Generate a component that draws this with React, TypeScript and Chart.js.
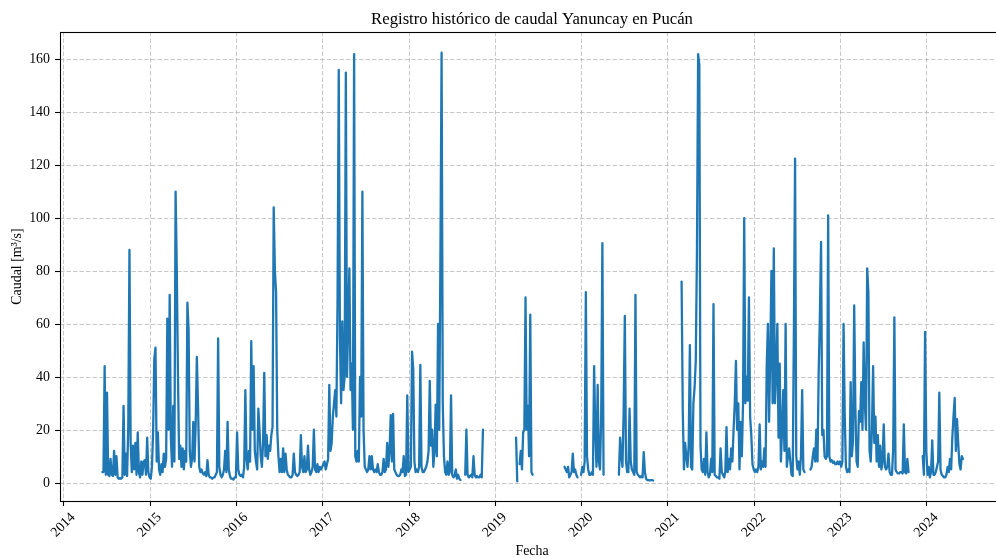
import { useEffect, useRef } from "react";
import { Chart, registerables } from "chart.js";

Chart.register(...registerables);

// Daily discharge sampled every 5 days, one array per calendar year (null = no record)
const STEP_DAYS = 5;
const _ = null;

const q2014 = [
  _, _, _, _, _, _, _, _, _, _, _, _, _, _, _, _, _, _, _, _, _, _, _, _, _, _, _, _, _, _, _, _, _,
  4, 4, 44, 3, 34, 3, 2.5, 9, 3, 2.5, 12, 3, 10, 2, 1.5, 1.8, 1.5, 2, 29, 3, 11, 2.5, 21, 88, 15,
  4, 14, 5, 15, 3, 19, 4, 2, 8, 3, 8, 8.5, 3, 17, 4,
];
const q2015 = [
  2, 1.5, 6, 20, 47, 51, 8, 19, 5, 3, 7, 4, 11, 6, 9, 62, 20, 71, 17, 6, 29, 8, 110, 81, 41, 9, 14,
  6, 13, 5, 12, 8, 68, 58, 12, 6, 9, 23, 8, 22, 47.5, 29, 6, 4, 5, 3.5, 3, 4, 2.5, 8.5, 3, 2, 2,
  1.5, 2, 2, 3, 4, 54.5, 6, 3, 2, 3, 5, 12, 4, 23, 5, 2.5, 1.5, 1.5, 1.2, 2,
];
const q2016 = [
  2, 19, 5, 3, 2.5, 3, 2, 6, 35, 9, 5, 12, 8, 53.5, 20, 44, 12, 8, 5, 28, 20, 10, 6, 15, 41.5, 10,
  18, 9, 14, 12, 18, 21, 104, 80, 72, 20, 10, 4, 9, 4, 13, 4, 11, 5, 3, 2.5, 2, 2, 3, 11, 4, 3,
  2.5, 3, 4, 18, 6, 4, 10, 4, 5, 14, 5, 3, 4, 6, 20, 5, 4, 7, 4, 6, 5,
];
const q2017 = [
  6, 7, 8, 5, 7, 9, 37, 12, 15, 25, 30, 35, 25, 70, 156, 55, 30, 61, 35, 40, 155, 40, 60, 81, 35,
  45, 20, 162, 10, 8, 12, 8, 40, 25, 110, 20, 6, 5, 4, 5, 10, 5, 10, 5, 4, 5, 4, 7, 4, 3, 3, 4, 9,
  4, 5, 15, 6, 12, 25.5, 8, 26, 5, 4, 3, 2.5, 2.5, 3, 5, 4, 10, 2.5, 3, 33,
];
const q2018 = [
  4, 5, 6, 49.5, 43, 8, 4, 5, 4, 6, 44.5, 6, 4, 4, 5, 6, 8, 12, 38.5, 14, 20, 6, 12, 29.5, 10, 60,
  20, 84, 162.5, 30, 10, 4, 3, 8, 3, 4, 33, 3, 2, 2.5, 5, 1.5, 3, 1.5, 1, _, _, _, 3, 20, 3, 2,
  2.5, 3, 2, 10, 3, 2, 2.5, 2, 2, 3, 2, 20, _, _, _, _, _, _, _, _, _,
];
const q2019 = [
  _, _, _, _, _, _, _, _, _, _, _, _, _, _, _, _, _, _, 17, 0.5, _, 7, 12, 5, 19, 20, 70, 20, 29,
  10, 63.5, 4, 3, _, _, _, _, _, _, _, _, _, _, _, _, _, _, _, _, _, _, _, _, _, _, _, _, _, _, 6,
  5, 4, 6, 2, 3, 4, 11, 4, 5, 3, 2, _, _,
];
const q2020 = [
  3, 6, 4, 8, 72, 10, 5, 3, 3, 4, 3, 44, 20, 6, 37, 8, 5, 25, 90.5, 3, _, _, _, _, _, _, _, _, _,
  _, _, _, 3, 17, 10, 6, 27, 63, 8, 4, 4, 28, 8, 5, 4, 3, 71, 4, 3, 2.5, 2, 2.5, 2, 11.5, 4, 1.5,
  1, 1, 0.8, 1, 1, 0.8, _, _, _, _, _, _, _, _, _, _, _,
];
const q2021 = [
  _, _, _, _, _, _, _, _, _, _, _, _, 76, 27, 5, 15, 10, 6, 14, 52, 6, 5, 30, 36, 46, 87, 162, 158,
  14, 5, 4, 9, 3, 19, 4, 2, 3, 9, 4, 67.5, 3, 2.5, 2, 2, 1.5, 13, 4, 3, 2, 4, 21, 4, 9, 5, 13, 8,
  20, 30, 46, 20, 30, 5, 23, 10, 30, 100, 30, 40, 31, 70, 25, 18, 7,
];
const q2022 = [
  5, 4, 5, 4, 6, 22, 5, 8, 6, 13, 6, 44, 60, 23, 49, 80, 30, 88.5, 30, 42, 60, 17, 45, 8, 20, 35,
  12, 60, 6, 10, 13, 8, 3, 2.5, 57.5, 122.5, 10, 5, 8, 3, 10, 35, 5, 4, _, _, _, _, 5, 6, 10, 13,
  8, 20, 8, 42, 63, 91, 18, 20, 10, 9, 10, 101, 10, 8, 8.5, 7.5, 8, 7, 7, 8, 7,
];
const q2023 = [
  8, 6, 8, 60, 25, 6, 4, 5, 4, 38, 10, 16, 67, 28, 8, 6, 27, 23, 38, 20, 53, 30, 20, 81, 72, 12, 8,
  20, 44, 15, 25, 8, 18, 6, 14, 5, 8, 22, 6, 5, 6, 11, 4, 3, 3, 13, 62.5, 5, 4, 3.5, 3.5, 4, 4,
  3.5, 22, 4, 3.5, 9, 4, _, _, _, _, _, _, _, _, _, _, _, 10, 3, 57,
];
const q2024 = [
  12, 3, 6, 2, 4, 16, 3, 3, 4, 6, 8, 34, 5, 3, 2.5, 2, 2, 3, 6, 4, 9, 5, 17, 25, 32, 12, 24, 15,
  7, 5, 10, 9,
];

const yearTicks = [2014, 2015, 2016, 2017, 2018, 2019, 2020, 2021, 2022, 2023, 2024];
const yTicks = [0, 20, 40, 60, 80, 100, 120, 140, 160];

const TITLE = "Registro histórico de caudal Yanuncay en Pucán";
const X_LABEL = "Fecha";
const Y_LABEL = "Caudal [m³/s]";

const FONT = "'Liberation Serif', 'Times New Roman', serif";
const LINE_COLOR = "#1f77b4";
const GRID_COLOR = "rgba(176,176,176,0.7)";

const yearly: [number, (number | null)[]][] = [
  [2014, q2014], [2015, q2015], [2016, q2016], [2017, q2017], [2018, q2018], [2019, q2019],
  [2020, q2020], [2021, q2021], [2022, q2022], [2023, q2023], [2024, q2024],
];

const points = yearly.flatMap(([yr, vals]) =>
  vals.map((v, i) => ({ x: yr + (i * STEP_DAYS) / 365.25, y: v }))
);

const axesPlugin = {
  id: "axesDecor",
  beforeDraw(chart: any) {
    const { ctx, width, height } = chart;
    ctx.save();
    ctx.fillStyle = "#ffffff";
    ctx.fillRect(0, 0, width, height);
    ctx.restore();
  },
  beforeDatasetsDraw(chart: any) {
    const { ctx, chartArea: a, scales } = chart;
    const xs = scales.x;
    const ys = scales.y;
    ctx.save();
    ctx.strokeStyle = GRID_COLOR;
    ctx.lineWidth = 1;
    ctx.setLineDash([4.5, 2]);
    for (const v of yearTicks) {
      const px = Math.round(xs.getPixelForValue(v)) + 0.5;
      ctx.beginPath();
      ctx.moveTo(px, a.top);
      ctx.lineTo(px, a.bottom);
      ctx.stroke();
    }
    for (const v of yTicks) {
      const py = Math.round(ys.getPixelForValue(v)) + 0.5;
      ctx.beginPath();
      ctx.moveTo(a.left, py);
      ctx.lineTo(a.right, py);
      ctx.stroke();
    }
    ctx.restore();
  },
  afterDatasetsDraw(chart: any) {
    const { ctx, chartArea: a, scales } = chart;
    const xs = scales.x;
    const ys = scales.y;
    ctx.save();
    // frame
    ctx.strokeStyle = "#000";
    ctx.lineWidth = 1.1;
    ctx.setLineDash([]);
    ctx.strokeRect(Math.round(a.left) + 0.5, Math.round(a.top) + 0.5,
      Math.round(a.right - a.left), Math.round(a.bottom - a.top));

    // tick marks
    for (const v of yTicks) {
      const py = Math.round(ys.getPixelForValue(v)) + 0.5;
      ctx.beginPath();
      ctx.moveTo(a.left - 5, py);
      ctx.lineTo(a.left, py);
      ctx.stroke();
    }
    for (const v of yearTicks) {
      const px = Math.round(xs.getPixelForValue(v)) + 0.5;
      ctx.beginPath();
      ctx.moveTo(px, a.bottom);
      ctx.lineTo(px, a.bottom + 5);
      ctx.stroke();
    }

    // tick labels
    ctx.fillStyle = "#000";
    ctx.font = `13.9px ${FONT}`;
    ctx.textAlign = "right";
    ctx.textBaseline = "middle";
    for (const v of yTicks) {
      ctx.fillText(String(v), a.left - 10, ys.getPixelForValue(v) + 0.5);
    }
    ctx.textAlign = "center";
    for (const v of yearTicks) {
      const px = xs.getPixelForValue(v);
      ctx.save();
      ctx.translate(px, a.bottom + 24);
      ctx.rotate(-Math.PI / 4);
      ctx.fillText(String(v), 0, 0);
      ctx.restore();
    }

    // axis titles
    const cx = (a.left + a.right) / 2;
    ctx.fillText(X_LABEL, cx, 551);
    ctx.save();
    ctx.translate(17, (a.top + a.bottom) / 2);
    ctx.rotate(-Math.PI / 2);
    ctx.fillText(Y_LABEL, 0, 0);
    ctx.restore();

    // chart title
    ctx.font = `16.7px ${FONT}`;
    ctx.textBaseline = "alphabetic";
    ctx.fillText(TITLE, cx, a.top - 8);
    ctx.restore();
  },
};

export default function App() {
  const canvasRef = useRef<HTMLCanvasElement | null>(null);

  useEffect(() => {
    const canvas = canvasRef.current;
    if (!canvas) return;
    const chart = new Chart(canvas, {
      type: "line",
      data: {
        datasets: [
          {
            label: "Caudal",
            data: points as any,
            borderColor: LINE_COLOR,
            borderWidth: 2.3,
            borderJoinStyle: "round",
            borderCapStyle: "round",
            pointRadius: 0,
            tension: 0,
            spanGaps: false,
          },
        ],
      },
      options: {
        responsive: false,
        animation: false,
        devicePixelRatio: 1,
        layout: { padding: { top: 32, right: 6, left: 0, bottom: 0 } },
        plugins: { legend: { display: false }, title: { display: false }, tooltip: { enabled: false } },
        scales: {
          x: {
            type: "linear",
            min: 2013.9618,
            max: 2024.9,
            grid: { display: false },
            border: { display: false },
            ticks: { display: false, stepSize: 1 },
            afterFit: (s: any) => { s.height = 57; },
          },
          y: {
            type: "linear",
            min: -6.92,
            max: 170.33,
            grid: { display: false },
            border: { display: false },
            ticks: { display: false, stepSize: 20 },
            afterFit: (s: any) => { s.width = 60; },
          },
        },
      },
      plugins: [axesPlugin],
    });
    return () => chart.destroy();
  }, []);

  return (
    <div style={{ position: "fixed", left: 0, top: 0, width: 996, height: 558, overflow: "hidden", background: "#fff" }}>
      <canvas ref={canvasRef} width={1010} height={558} style={{ display: "block" }} />
    </div>
  );
}
